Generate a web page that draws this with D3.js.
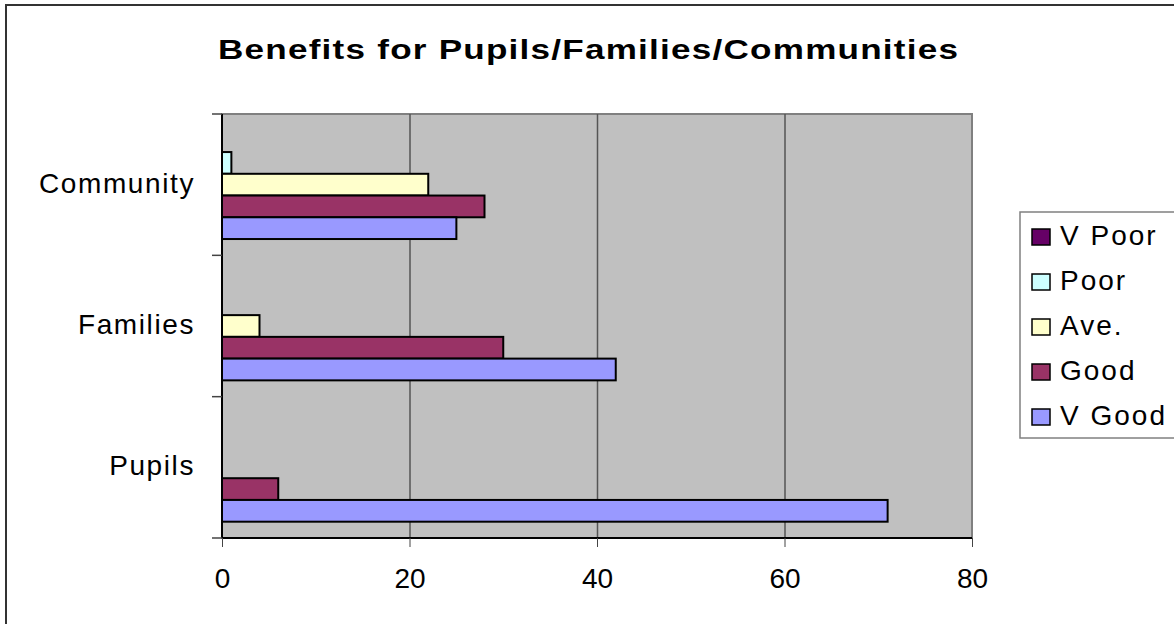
<!DOCTYPE html>
<html>
<head>
<meta charset="utf-8">
<script src="https://cdn.jsdelivr.net/npm/d3@7"></script>
<style>
  body { margin: 0; background: #fff; }
  svg { display: block; font-family: Arial, "Liberation Sans", sans-serif; }
</style>
</head>
<body>
<svg id="chart" width="1174" height="624"></svg>
<script>
// data
var categories = ["Community", "Families", "Pupils"];
var seriesNames = ["V Poor", "Poor", "Ave.", "Good", "V Good"];
var vPoor = [0, 0, 0];
var poor = [1, 0, 0];
var ave = [22, 4, 0];
var good = [28, 30, 6];
var vGood = [25, 42, 71];
var xTicks = [0, 20, 40, 60, 80];
var colors = ["#660066", "#ccffff", "#ffffcc", "#993366", "#9999ff"];

var seriesValues = [vPoor, poor, ave, good, vGood];

var svg = d3.select("#chart");

// outer chart border (runs off right / bottom)
svg.append("rect")
  .attr("x", 6).attr("y", 5)
  .attr("width", 1200).attr("height", 650)
  .attr("fill", "#fff")
  .attr("stroke", "#333").attr("stroke-width", 2);

var plot = { left: 222, top: 114, right: 972, bottom: 538 };
var width = plot.right - plot.left;
var height = plot.bottom - plot.top;

var x = d3.scaleLinear().domain([0, 80]).range([0, width]);
var y = d3.scaleBand().domain(categories).range([0, height]);
var gap = y.bandwidth() * 1.5 / (seriesNames.length + 1.5);
var yInner = d3.scaleBand().domain(seriesNames).range([gap / 2, y.bandwidth() - gap / 2]);

var g = svg.append("g").attr("transform", "translate(" + plot.left + "," + plot.top + ")");

// plot background
g.append("rect")
  .attr("width", width).attr("height", height)
  .attr("fill", "#c0c0c0")
  .attr("stroke", "#808080").attr("stroke-width", 2);

// gridlines
g.append("g")
  .attr("transform", "translate(0," + height + ")")
  .call(d3.axisBottom(x).tickValues(xTicks.slice(1, -1)).tickSize(-height).tickFormat(""))
  .call(function(s) { s.select(".domain").remove(); })
  .selectAll("line").attr("stroke", "#555").attr("stroke-width", 1.5);

// bars
var rows = [];
seriesNames.forEach(function(name, i) {
  categories.forEach(function(cat, j) {
    rows.push({ series: name, cat: cat, value: seriesValues[i][j], color: colors[i] });
  });
});

g.selectAll("rect.bar")
  .data(rows.filter(function(d) { return d.value > 0; }))
  .enter().append("rect")
  .attr("class", "bar")
  .attr("x", 0)
  .attr("y", function(d) { return y(d.cat) + yInner(d.series); })
  .attr("width", function(d) { return x(d.value); })
  .attr("height", yInner.bandwidth())
  .attr("fill", function(d) { return d.color; })
  .attr("stroke", "#000").attr("stroke-width", 2);

// value axis
var xAxis = g.append("g")
  .attr("transform", "translate(0," + height + ")")
  .call(d3.axisBottom(x).tickValues(xTicks).tickSize(9).tickPadding(21));
xAxis.select(".domain").attr("stroke", "#000").attr("stroke-width", 2).attr("d", "M0,0H" + width);
xAxis.selectAll(".tick line").attr("stroke", "#444");
xAxis.selectAll("text")
  .attr("font-size", 28).attr("fill", "#000")
  .style("font-family", "Arial, 'Liberation Sans', sans-serif");

// category axis
g.append("line")
  .attr("x1", 0).attr("x2", 0).attr("y1", 0).attr("y2", height)
  .attr("stroke", "#000").attr("stroke-width", 2);

var edges = [0].concat(categories.map(function(c) { return y(c) + y.bandwidth(); }));
g.selectAll("line.ctick")
  .data(edges)
  .enter().append("line")
  .attr("class", "ctick")
  .attr("x1", -10).attr("x2", 0)
  .attr("y1", function(d) { return d; }).attr("y2", function(d) { return d; })
  .attr("stroke", "#444").attr("stroke-width", 1.5);

g.selectAll("text.cat")
  .data(categories)
  .enter().append("text")
  .attr("class", "cat")
  .attr("x", -27)
  .attr("y", function(d) { return y(d) + y.bandwidth() / 2 + 8; })
  .attr("text-anchor", "end")
  .attr("font-size", 28)
  .attr("letter-spacing", 1.6)
  .text(function(d) { return d; });

// title (glyphs are drawn wide in the original)
svg.append("g")
  .attr("transform", "translate(218,59) scale(1.3,1)")
  .append("text")
  .attr("font-size", 27).attr("font-weight", "bold")
  .attr("textLength", 740 / 1.3).attr("lengthAdjust", "spacing")
  .text("Benefits for Pupils/Families/Communities");

// legend
var legend = svg.append("g").attr("transform", "translate(1020,212)");
legend.append("rect")
  .attr("width", 200).attr("height", 226)
  .attr("fill", "#fff").attr("stroke", "#808080").attr("stroke-width", 1.5);

var item = legend.selectAll("g.item")
  .data(seriesNames)
  .enter().append("g")
  .attr("class", "item")
  .attr("transform", function(d, i) { return "translate(0," + (25 + i * 45) + ")"; });

item.append("rect")
  .attr("x", 12).attr("y", -8)
  .attr("width", 18).attr("height", 16)
  .attr("fill", function(d, i) { return colors[i]; })
  .attr("stroke", "#000").attr("stroke-width", 1.5);

item.append("text")
  .attr("x", 40).attr("y", 8)
  .attr("font-size", 28)
  .attr("letter-spacing", 2)
  .text(function(d) { return d; });
</script>
</body>
</html>
